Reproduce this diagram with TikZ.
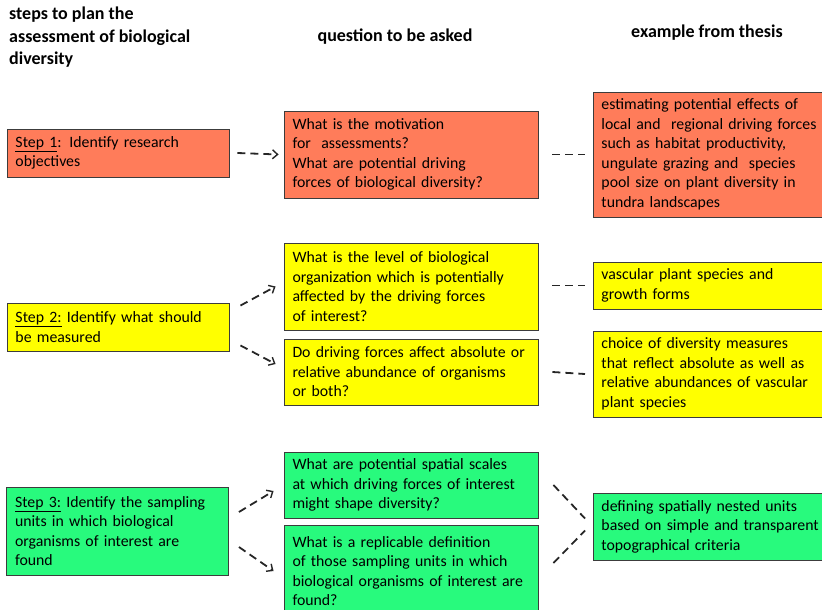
\documentclass[tikz,border=0pt]{standalone}
\usepackage{fontspec}
\setmainfont{Carlito}
\usetikzlibrary{arrows.meta}
\definecolor{cOrange}{RGB}{255,124,90}
\definecolor{cYellow}{RGB}{255,255,0}
\definecolor{cGreen}{RGB}{40,250,125}
\definecolor{cBorder}{RGB}{60,60,60}
\tikzset{
  box/.style={draw=cBorder, line width=0.9pt, align=left, inner xsep=8.5pt, inner ysep=2pt,
     font=\fontsize{15.8}{19.5}\selectfont, text=black},
  stepbox/.style={box, text width=205pt},
  qbox/.style={box, text width=237pt},
  ebox/.style={box, text width=224pt, inner xsep=8pt, anchor=west},
  hdr/.style={font=\fontsize{18}{22.5}\selectfont\bfseries, align=left, inner sep=0pt},
  conn/.style={dash pattern=on 8pt off 5pt, line width=1.8pt, black!85},
  arr/.style={conn, -{Straight Barb[length=5pt,width=9pt,line width=1.4pt]}}
}
\begin{document}
\begin{tikzpicture}[x=1pt,y=-1pt]
\useasboundingbox (0,0) rectangle (822,610);
\clip (0,0) rectangle (822,610);
% headers
\node[hdr, anchor=north west] (h1) at (9,7) {steps to plan the\\assessment of biological\\diversity};
\node[hdr] (h2) at (395,37) {question to be asked};
\node[hdr] (h3) at (707,33) {example from thesis};
% step boxes
\node[stepbox, fill=cOrange, minimum height=48pt] (s1) at (118,153) {\underline{Step 1}: Identify research\\objectives};
\node[stepbox, fill=cYellow, minimum height=48pt] (s2) at (118,327) {\underline{Step 2:} Identify what should\\be measured};
\node[stepbox, fill=cGreen, minimum height=88pt] (s3) at (117.5,531) {\underline{Step 3:} Identify the sampling\\units in which biological\\organisms of interest are\\found};
% question boxes
\node[qbox, fill=cOrange, minimum height=87pt] (q1) at (411,154.5) {What is the motivation\\for\ \ assessments?\\What are potential driving\\forces of biological diversity?};
\node[qbox, fill=cYellow, minimum height=87pt] (q2a) at (411,286.5) {What is the level of biological\\organization which is potentially\\affected by the driving forces\\of interest?};
\node[qbox, fill=cYellow, minimum height=66pt] (q2b) at (411,372) {Do driving forces affect absolute or\\relative abundance of organisms\\or both?};
\node[qbox, fill=cGreen, minimum height=66pt] (q3a) at (411,485) {What are potential spatial scales\\at which driving forces of interest\\might shape diversity?};
\node[qbox, fill=cGreen, minimum height=92pt] (q3b) at (411,571) {What is a replicable definition\\of those sampling units in which\\biological organisms of interest are\\found?};
% example boxes
\node[ebox, fill=cOrange, minimum height=125pt] (e1) at (593,154.5) {estimating potential effects of\\local and\ \ regional driving forces\\such as habitat productivity,\\ungulate grazing and\ \ species\\pool size on plant diversity in\\tundra landscapes};
\node[ebox, fill=cYellow, minimum height=47pt] (e2a) at (593,285.5) {vascular plant species and\\growth forms};
\node[ebox, fill=cYellow, minimum height=86pt] (e2b) at (593,374) {choice of diversity measures\\that reflect absolute as well as\\relative abundances of vascular\\plant species};
\node[ebox, fill=cGreen, minimum height=67pt] (e3) at (593,526.5) {defining spatially nested units\\based on simple and transparent\\topographical criteria};
% connectors
\draw[arr] ([xshift=8]s1.east) -- ([xshift=-5]q1.west);
\draw[conn] ([xshift=14]q1.east) -- ([xshift=-8]e1.west);
\draw[arr] ([shift={(11,3)}]s2.north east) -- ([xshift=-8]q2a.west);
\draw[arr] ([shift={(11,-6)}]s2.south east) -- ([shift={(-8,-8)}]q2b.west);
\draw[conn] ([xshift=14]q2a.east |- e2a.west) -- ([xshift=-8]e2a.west);
\draw[conn] ([xshift=14]q2b.east) -- ([xshift=-8]e2b.west);
\draw[arr] ([shift={(10,-19)}]s3.east) -- ([shift={(-10,6)}]q3a.west);
\draw[arr] ([shift={(10,16)}]s3.east) -- ([xshift=-10]q3b.west);
\draw[conn] ([xshift=15]q3a.east) -- ([shift={(-8,-8)}]e3.west);
\draw[conn] ([shift={(15,-8)}]q3b.east) -- ([shift={(-8,4)}]e3.west);
\end{tikzpicture}
\end{document}
